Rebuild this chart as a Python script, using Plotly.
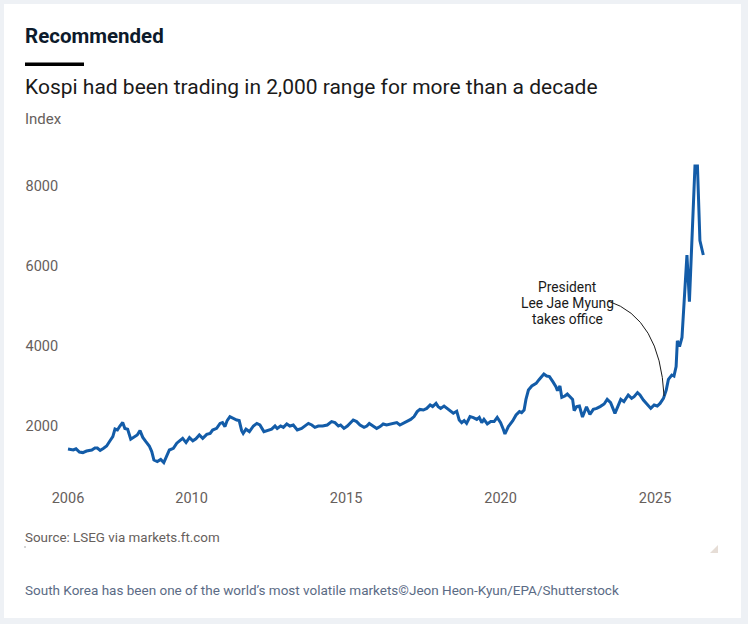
import plotly.graph_objects as go

# Kospi index (decimal year, index level)
years = [
    2006.00, 2006.17, 2006.26, 2006.37, 2006.48, 2006.60, 2006.77, 2006.87, 2006.95,
    2007.04, 2007.14, 2007.25, 2007.36, 2007.45, 2007.52, 2007.60, 2007.68, 2007.77, 2007.84, 2007.93,
    2008.03, 2008.14, 2008.24, 2008.33, 2008.42, 2008.52, 2008.63, 2008.71, 2008.78, 2008.89,
    2009.00, 2009.10, 2009.19, 2009.28, 2009.41, 2009.52, 2009.62, 2009.71, 2009.82, 2009.93,
    2010.04, 2010.14, 2010.25, 2010.36, 2010.49, 2010.60, 2010.68, 2010.81, 2010.92,
    2011.00, 2011.08, 2011.15, 2011.24, 2011.35, 2011.46, 2011.54, 2011.62, 2011.67, 2011.76, 2011.87,
    2012.00, 2012.11, 2012.21, 2012.34, 2012.45, 2012.59, 2012.70, 2012.77, 2012.88, 2012.97,
    2013.08, 2013.18, 2013.29, 2013.42, 2013.56, 2013.67, 2013.78, 2013.89, 2013.99,
    2014.10, 2014.24, 2014.39, 2014.53, 2014.64, 2014.75, 2014.82, 2014.93,
    2015.04, 2015.15, 2015.23, 2015.34, 2015.45, 2015.58, 2015.67, 2015.75, 2015.86, 2015.99,
    2016.10, 2016.20, 2016.31, 2016.42, 2016.53, 2016.64, 2016.74, 2016.85, 2016.98,
    2017.09, 2017.20, 2017.30, 2017.39, 2017.50, 2017.61, 2017.72, 2017.80, 2017.91, 2017.98,
    2018.06, 2018.17, 2018.27, 2018.38, 2018.47, 2018.58, 2018.66, 2018.74, 2018.82, 2018.90,
    2019.01, 2019.12, 2019.23, 2019.31, 2019.39, 2019.46, 2019.57, 2019.68, 2019.79, 2019.89,
    2020.00, 2020.09, 2020.14, 2020.25, 2020.39, 2020.50, 2020.61, 2020.68, 2020.76, 2020.82, 2020.90,
    2021.01, 2021.15, 2021.25, 2021.40, 2021.49, 2021.58, 2021.69, 2021.79, 2021.84, 2021.92, 2021.98,
    2022.08, 2022.16, 2022.25, 2022.33, 2022.38, 2022.46, 2022.55, 2022.65, 2022.78, 2022.89,
    2023.00, 2023.11, 2023.22, 2023.35, 2023.45, 2023.56, 2023.70, 2023.78, 2023.89, 2023.99,
    2024.13, 2024.24, 2024.32, 2024.43, 2024.51, 2024.62, 2024.73, 2024.86, 2024.97,
    2025.07, 2025.16, 2025.27, 2025.36, 2025.43, 2025.54, 2025.61, 2025.68, 2025.72, 2025.79, 2025.87,
    2026.03, 2026.11, 2026.29, 2026.37, 2026.45, 2026.56,
]
kospi = [
    1425, 1400, 1430, 1350, 1335, 1375, 1400, 1450, 1450,
    1390, 1440, 1500, 1630, 1735, 1925, 1900, 2000, 2090, 1940, 1920,
    1670, 1735, 1775, 1885, 1715, 1610, 1500, 1360, 1150, 1110,
    1165, 1085, 1250, 1400, 1440, 1570, 1635, 1690, 1585, 1710,
    1630, 1680, 1775, 1690, 1790, 1815, 1900, 1940, 2065,
    2085, 1985, 2135, 2235, 2190, 2150, 2135, 1885, 1815, 1920, 1860,
    2000, 2065, 2025, 1860, 1885, 1920, 2000, 1940, 2000, 1965,
    2050, 2000, 2025, 1900, 1940, 2000, 2065, 2025, 1965,
    2000, 2000, 2025, 2110, 2085, 2000, 2025, 1940,
    2000, 2085, 2150, 2110, 2025, 1965, 2000, 2065, 2000, 1940,
    1985, 2050, 2025, 2040, 2065, 2085, 2025, 2065, 2110,
    2165, 2235, 2360, 2415, 2400, 2440, 2525, 2485, 2565, 2485,
    2440, 2500, 2440, 2360, 2320, 2370, 2150, 2085, 2135, 2065,
    2235, 2210, 2165, 2215, 2085, 2165, 2050, 2110, 2110, 2215,
    2085, 1915, 1800, 1985, 2125, 2275, 2360, 2335, 2400, 2665, 2900,
    3000, 3065, 3165, 3300, 3250, 3235, 3110, 2985, 2885, 3000, 2715,
    2750, 2800, 2715, 2665, 2385, 2485, 2500, 2225, 2480, 2290,
    2415, 2440, 2485, 2550, 2665, 2585, 2315, 2465, 2665, 2610,
    2775, 2690, 2735, 2835, 2775, 2650, 2565, 2440, 2525,
    2500, 2565, 2690, 2900, 3165, 3275, 3250, 3485, 4130, 3985, 4215,
    6275, 5110, 8500, 8500, 6635, 6275,
]

x_ticks = [2006, 2010, 2015, 2020, 2025]
y_ticks = [2000, 4000, 6000, 8000]

# annotation: label lines, where they sit, and the curve to the line
note_lines = ["President", "Lee Jae Myung", "takes office"]
note_x, note_y, note_step = 2022.18, 5475, 400
arrow_start = (2023.48, 5125)
arrow_ctrl = (2025.16, 4700)
arrow_end = (2025.29, 2750)

W, H = 748, 624
L, R, T, B = 66, 28, 150, 144
pw, ph = W - L - R, H - T - B


def px(x):
    return (x - L) / pw


def py(y):
    return (H - B - y) / ph


grey = "#66605c"
fig = go.Figure()
fig.add_trace(go.Scatter(
    x=years, y=kospi, mode="lines",
    line=dict(color="#135ca8", width=3), hoverinfo="skip"
))

shapes = [
    # white card over light frame
    dict(type="rect", xref="paper", yref="paper", x0=px(4), x1=px(741), y0=py(618), y1=py(4),
         fillcolor="white", line=dict(width=0), layer="below"),
    # black rule under heading
    dict(type="rect", xref="paper", yref="paper", x0=px(25), x1=px(84), y0=py(66), y1=py(62.5),
         fillcolor="black", line=dict(width=0)),
    # curved connector
    dict(type="path", xref="x", yref="y",
         path="M %s,%s Q %s,%s %s,%s" % (arrow_start + arrow_ctrl + arrow_end),
         line=dict(color="#1a1a1a", width=1)),
    # small marks near source line
    dict(type="line", xref="paper", yref="paper", x0=px(25), x1=px(25), y0=py(548), y1=py(546),
         line=dict(color="#aaaaaa", width=1)),
    dict(type="path", xref="paper", yref="paper",
         path="M %f,%f L %f,%f L %f,%f Z" % (px(718), py(545), px(718), py(553), px(710), py(553)),
         fillcolor="#e6ddd6", line=dict(width=0)),
]

font = "Roboto"
annotations = [
    dict(text="<b>Recommended</b>", x=px(23), y=py(36), font=dict(size=20.5, color="#0d1a2b", family=font)),
    dict(text="Kospi had been trading in 2,000 range for more than a decade", x=px(23), y=py(87),
         font=dict(size=21, color="#1a1a1a", family=font)),
    dict(text="Index", x=px(23), y=py(119), font=dict(size=15, color=grey, family=font)),
    dict(text="Source: LSEG via markets.ft.com", x=px(23), y=py(537), font=dict(size=13.4, color=grey, family=font)),
    dict(text="South Korea has been one of the world\u2019s most volatile markets\u00a9Jeon Heon-Kyun/EPA/Shutterstock",
         x=px(23), y=py(590), font=dict(size=13.5, color="#5b6b85", family=font)),
]
for a in annotations:
    a.update(xref="paper", yref="paper", xanchor="left", yanchor="middle", showarrow=False)
for i, line in enumerate(note_lines):
    annotations.append(dict(text=line, x=note_x, y=note_y - i * note_step, xref="x", yref="y",
                            showarrow=False, xanchor="center", yanchor="middle",
                            font=dict(size=13.8, color="#1a1a1a", family=font)))

fig.update_layout(
    width=W, height=H,
    margin=dict(l=L, r=R, t=T, b=B),
    paper_bgcolor="#eef1f5",
    plot_bgcolor="rgba(0,0,0,0)",
    showlegend=False,
    shapes=shapes,
    annotations=annotations,
    font=dict(family=font, size=14.5, color=grey),
    xaxis=dict(range=[2005.935, 2027.1], tickvals=x_ticks, ticktext=[str(v) for v in x_ticks],
               showgrid=False, zeroline=False, showline=False,
               ticks="outside", ticklen=5, tickcolor="rgba(0,0,0,0)"),
    yaxis=dict(range=[650, 8900], tickvals=y_ticks, ticktext=[str(v) for v in y_ticks],
               showgrid=False, zeroline=False, showline=False,
               ticks="outside", ticklen=4, tickcolor="rgba(0,0,0,0)"),
)

fig.write_html("out.html", config={"displayModeBar": False},
               post_script="document.body.style.margin='0';")
